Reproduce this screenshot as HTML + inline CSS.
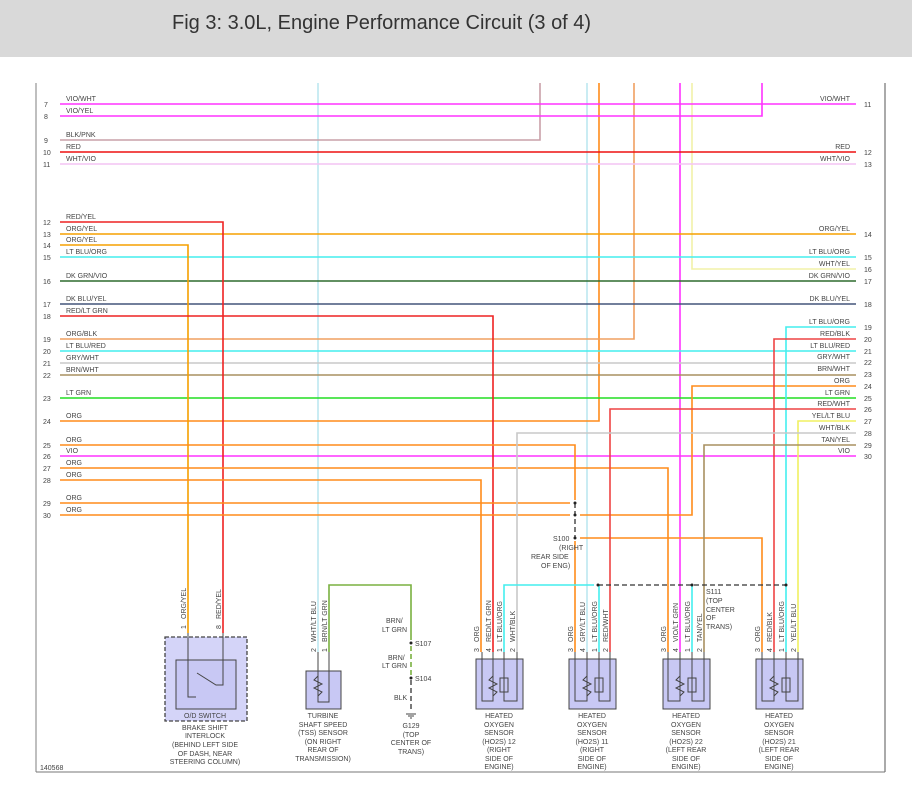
<!DOCTYPE html>
<html><head><meta charset="utf-8"><style>
html,body{margin:0;padding:0;background:#fff;}
svg{display:block;font-family:"Liberation Sans",sans-serif;}
.t{font-size:7px;fill:#444;}
.h{font-size:20px;fill:#333;}
</style></head><body>
<svg width="912" height="800" viewBox="0 0 912 800" xmlns="http://www.w3.org/2000/svg">
<rect x="0" y="0" width="912" height="57" fill="#d9d9d9"/>
<text x="172" y="29" class="h">Fig 3: 3.0L, Engine Performance Circuit (3 of 4)</text>
<line x1="36" y1="83" x2="36" y2="772" stroke="#aaa" stroke-width="1.5"/>
<line x1="885" y1="83" x2="885" y2="772" stroke="#555" stroke-width="1"/>
<line x1="36" y1="772" x2="885" y2="772" stroke="#777" stroke-width="1"/>
<text x="40" y="770" class="t">140568</text>

<g fill="none" stroke-width="1.6">
<polyline points="318,83 318,652" stroke="#bde8f0"/>
<polyline points="587,83 587,652" stroke="#bde8f0"/>
<polyline points="680,83 680,652" stroke="#ff33ff"/>
<polyline points="692,83 692,269 856,269" stroke="#f2f2a8"/>
<polyline points="599,83 599,421 60,421" stroke="#ff8c1a"/>
<polyline points="634,83 634,339 60,339" stroke="#f0a060"/>
<polyline points="540,83 540,140 60,140" stroke="#c9a0a8"/>
<polyline points="762,83 762,116 60,116" stroke="#ff33ff"/>
<line x1="60" y1="104" x2="856" y2="104" stroke="#ff33ff"/>
<line x1="60" y1="152" x2="856" y2="152" stroke="#ee1111"/>
<line x1="60" y1="164" x2="856" y2="164" stroke="#f4c4f4"/>
<line x1="60" y1="234" x2="856" y2="234" stroke="#f5a000"/>
<line x1="60" y1="257" x2="856" y2="257" stroke="#44eeee"/>
<line x1="60" y1="281" x2="856" y2="281" stroke="#2e6b2e"/>
<line x1="60" y1="304" x2="856" y2="304" stroke="#44557a"/>
<line x1="60" y1="351" x2="856" y2="351" stroke="#44eeee"/>
<line x1="60" y1="363" x2="856" y2="363" stroke="#c8c8c8"/>
<line x1="60" y1="375" x2="856" y2="375" stroke="#a89060"/>
<line x1="60" y1="398" x2="856" y2="398" stroke="#22dd22"/>
<line x1="60" y1="456" x2="856" y2="456" stroke="#ff33ff"/>
<polyline points="60,222 223,222 223,633" stroke="#ee2222"/>
<polyline points="60,245 188,245 188,633" stroke="#f5a000"/>
<polyline points="60,316 493,316 493,652" stroke="#ee2222"/>
<polyline points="60,445 575,445 575,500" stroke="#ff8c1a"/>
<polyline points="60,468 668,468 668,652" stroke="#ff8c1a"/>
<polyline points="60,480 481,480 481,652" stroke="#ff8c1a"/>
<line x1="60" y1="503" x2="570" y2="503" stroke="#ff8c1a"/>
<line x1="60" y1="515" x2="570" y2="515" stroke="#ff8c1a"/>
<polyline points="580,515 692,515 692,386 856,386" stroke="#ff8c1a"/>
<polyline points="580,538 762,538 762,652" stroke="#ff8c1a"/>
<line x1="575" y1="541" x2="575" y2="652" stroke="#ff8c1a"/>
<polyline points="856,327 786,327 786,652" stroke="#44eeee"/>
<polyline points="856,339 774,339 774,652" stroke="#ee4444"/>
<polyline points="856,409 610,409 610,652" stroke="#ee4444"/>
<polyline points="856,421 798,421 798,652" stroke="#f0f060"/>
<polyline points="856,433 517,433 517,652" stroke="#c8c8c8"/>
<polyline points="856,445 704,445 704,652" stroke="#a89060"/>
<polyline points="504,652 504,585 594,585" stroke="#44eeee"/>
<line x1="599" y1="585" x2="599" y2="652" stroke="#44eeee"/>
<line x1="692" y1="585" x2="692" y2="652" stroke="#44eeee"/>
<polyline points="329,652 329,585 411,585 411,640" stroke="#7ab040"/>
<line x1="411" y1="646" x2="411" y2="675" stroke="#7ab040" stroke-dasharray="5,3"/>
</g>
<g stroke="#333" stroke-width="1.3" fill="none" stroke-dasharray="5,3">
<line x1="575" y1="503" x2="575" y2="538"/>
<line x1="598" y1="585" x2="786" y2="585"/>
<line x1="411" y1="680" x2="411" y2="712"/>
</g>
<g fill="#222">
<circle cx="575" cy="503" r="1.5"/><circle cx="575" cy="515" r="1.5"/><circle cx="575" cy="538" r="1.5"/>
<circle cx="598" cy="585" r="1.5"/><circle cx="692" cy="585" r="1.5"/><circle cx="786" cy="585" r="1.5"/>
<circle cx="411" cy="643" r="1.5"/><circle cx="411" cy="678" r="1.5"/>
</g>
<g stroke="#444" stroke-width="1"><line x1="406" y1="714" x2="416" y2="714"/><line x1="408" y1="716" x2="414" y2="716"/><line x1="410" y1="718" x2="412" y2="718"/></g>

<g stroke="#444" stroke-width="1">
<rect x="165" y="637" width="82" height="84" fill="#d4d4f8" stroke-dasharray="4,2" stroke-width="1.3"/>
<rect x="176" y="660" width="60" height="49" fill="#c8c8f4"/>
<polyline points="188,633 188,697 196,697" fill="none"/>
<polyline points="223,633 223,685 216,685 197,673" fill="none"/>
<rect x="306" y="671" width="35" height="38" fill="#c8c8f4"/>
<polyline points="318,652 318,702 329,702 329,652" fill="none"/>
<polyline points="318,676 314,680 322,684 314,688 322,692 318,696" fill="none"/>
<rect x="476" y="659" width="47" height="50" fill="#c8c8f4"/>
<rect x="569" y="659" width="47" height="50" fill="#c8c8f4"/>
<rect x="663" y="659" width="47" height="50" fill="#c8c8f4"/>
<rect x="756" y="659" width="47" height="50" fill="#c8c8f4"/>
</g>
<g stroke="#444" stroke-width="1" fill="none">
<polyline points="482,652 482,701 493,701 493,652"/><polyline points="504,652 504,701 517,701 517,652"/>
<polyline points="493,676 489,680 497,684 489,688 497,692 493,696"/><rect x="500" y="678" width="8" height="14"/>
<polyline points="575,652 575,701 587,701 587,652"/><polyline points="599,652 599,701 610,701 610,652"/>
<polyline points="587,676 583,680 591,684 583,688 591,692 587,696"/><rect x="595" y="678" width="8" height="14"/>
<polyline points="668,652 668,701 680,701 680,652"/><polyline points="692,652 692,701 704,701 704,652"/>
<polyline points="680,676 676,680 684,684 676,688 684,692 680,696"/><rect x="688" y="678" width="8" height="14"/>
<polyline points="762,652 762,701 774,701 774,652"/><polyline points="786,652 786,701 798,701 798,652"/>
<polyline points="774,676 770,680 778,684 770,688 778,692 774,696"/><rect x="782" y="678" width="8" height="14"/>
</g>

<g class="t">
<text x="44" y="107">7</text><text x="66" y="101">VIO/WHT</text>
<text x="44" y="119">8</text><text x="66" y="113">VIO/YEL</text>
<text x="44" y="143">9</text><text x="66" y="137">BLK/PNK</text>
<text x="43" y="155">10</text><text x="66" y="149">RED</text>
<text x="43" y="167">11</text><text x="66" y="161">WHT/VIO</text>
<text x="43" y="225">12</text><text x="66" y="219">RED/YEL</text>
<text x="43" y="237">13</text><text x="66" y="231">ORG/YEL</text>
<text x="43" y="248">14</text><text x="66" y="242">ORG/YEL</text>
<text x="43" y="260">15</text><text x="66" y="254">LT BLU/ORG</text>
<text x="43" y="284">16</text><text x="66" y="278">DK GRN/VIO</text>
<text x="43" y="307">17</text><text x="66" y="301">DK BLU/YEL</text>
<text x="43" y="319">18</text><text x="66" y="313">RED/LT GRN</text>
<text x="43" y="342">19</text><text x="66" y="336">ORG/BLK</text>
<text x="43" y="354">20</text><text x="66" y="348">LT BLU/RED</text>
<text x="43" y="366">21</text><text x="66" y="360">GRY/WHT</text>
<text x="43" y="378">22</text><text x="66" y="372">BRN/WHT</text>
<text x="43" y="401">23</text><text x="66" y="395">LT GRN</text>
<text x="43" y="424">24</text><text x="66" y="418">ORG</text>
<text x="43" y="448">25</text><text x="66" y="442">ORG</text>
<text x="43" y="459">26</text><text x="66" y="453">VIO</text>
<text x="43" y="471">27</text><text x="66" y="465">ORG</text>
<text x="43" y="483">28</text><text x="66" y="477">ORG</text>
<text x="43" y="506">29</text><text x="66" y="500">ORG</text>
<text x="43" y="518">30</text><text x="66" y="512">ORG</text>
</g>
<g class="t" text-anchor="end">
<text x="850" y="101">VIO/WHT</text><text x="850" y="149">RED</text><text x="850" y="161">WHT/VIO</text>
<text x="850" y="231">ORG/YEL</text><text x="850" y="254">LT BLU/ORG</text><text x="850" y="266">WHT/YEL</text>
<text x="850" y="278">DK GRN/VIO</text><text x="850" y="301">DK BLU/YEL</text><text x="850" y="324">LT BLU/ORG</text>
<text x="850" y="336">RED/BLK</text><text x="850" y="348">LT BLU/RED</text><text x="850" y="359">GRY/WHT</text>
<text x="850" y="371">BRN/WHT</text><text x="850" y="383">ORG</text><text x="850" y="395">LT GRN</text>
<text x="850" y="406">RED/WHT</text><text x="850" y="418">YEL/LT BLU</text><text x="850" y="430">WHT/BLK</text>
<text x="850" y="442">TAN/YEL</text><text x="850" y="453">VIO</text>
</g>
<g class="t">
<text x="864" y="107">11</text><text x="864" y="155">12</text><text x="864" y="167">13</text>
<text x="864" y="237">14</text><text x="864" y="260">15</text><text x="864" y="272">16</text>
<text x="864" y="284">17</text><text x="864" y="307">18</text><text x="864" y="330">19</text>
<text x="864" y="342">20</text><text x="864" y="354">21</text><text x="864" y="365">22</text>
<text x="864" y="377">23</text><text x="864" y="389">24</text><text x="864" y="401">25</text>
<text x="864" y="412">26</text><text x="864" y="424">27</text><text x="864" y="436">28</text>
<text x="864" y="448">29</text><text x="864" y="459">30</text>
<text x="553" y="541">S100</text><text x="559" y="550">(RIGHT</text><text x="531" y="559">REAR SIDE</text><text x="541" y="568">OF ENG)</text>
<text x="706" y="594">S111</text><text x="706" y="603">(TOP</text><text x="706" y="612">CENTER</text><text x="706" y="620">OF</text><text x="706" y="629">TRANS)</text>
<text x="386" y="623">BRN/</text><text x="382" y="632">LT GRN</text><text x="415" y="646">S107</text>
<text x="388" y="660">BRN/</text><text x="382" y="668">LT GRN</text><text x="415" y="681">S104</text>
<text x="394" y="700">BLK</text>
</g>
<g class="t" text-anchor="middle">
<text x="411" y="728">G129</text><text x="411" y="737">(TOP</text><text x="411" y="745">CENTER OF</text><text x="411" y="754">TRANS)</text>
<text x="205" y="718">O/D SWITCH</text><text x="205" y="730">BRAKE SHIFT</text><text x="205" y="738">INTERLOCK</text><text x="205" y="747">(BEHIND LEFT SIDE</text><text x="205" y="756">OF DASH, NEAR</text><text x="205" y="764">STEERING COLUMN)</text>
<text x="323" y="718">TURBINE</text><text x="323" y="727">SHAFT SPEED</text><text x="323" y="735">(TSS) SENSOR</text><text x="323" y="744">(ON RIGHT</text><text x="323" y="752">REAR OF</text><text x="323" y="761">TRANSMISSION)</text>
<text x="499" y="718">HEATED</text><text x="499" y="727">OXYGEN</text><text x="499" y="735">SENSOR</text><text x="499" y="744">(HO2S) 12</text><text x="499" y="752">(RIGHT</text><text x="499" y="761">SIDE OF</text><text x="499" y="769">ENGINE)</text>
<text x="592" y="718">HEATED</text><text x="592" y="727">OXYGEN</text><text x="592" y="735">SENSOR</text><text x="592" y="744">(HO2S) 11</text><text x="592" y="752">(RIGHT</text><text x="592" y="761">SIDE OF</text><text x="592" y="769">ENGINE)</text>
<text x="686" y="718">HEATED</text><text x="686" y="727">OXYGEN</text><text x="686" y="735">SENSOR</text><text x="686" y="744">(HO2S) 22</text><text x="686" y="752">(LEFT REAR</text><text x="686" y="761">SIDE OF</text><text x="686" y="769">ENGINE)</text>
<text x="779" y="718">HEATED</text><text x="779" y="727">OXYGEN</text><text x="779" y="735">SENSOR</text><text x="779" y="744">(HO2S) 21</text><text x="779" y="752">(LEFT REAR</text><text x="779" y="761">SIDE OF</text><text x="779" y="769">ENGINE)</text>
</g>

<g class="t">
<g transform="translate(186,629) rotate(-90)"><text x="0" y="0">1</text><text x="10" y="0">ORG/YEL</text></g>
<g transform="translate(221,629) rotate(-90)"><text x="0" y="0">8</text><text x="10" y="0">RED/YEL</text></g>
<g transform="translate(316,652) rotate(-90)"><text x="0" y="0">2</text><text x="10" y="0">WHT/LT BLU</text></g>
<g transform="translate(327,652) rotate(-90)"><text x="0" y="0">1</text><text x="10" y="0">BRN/LT GRN</text></g>
<g transform="translate(479,652) rotate(-90)"><text x="0" y="0">3</text><text x="10" y="0">ORG</text></g>
<g transform="translate(491,652) rotate(-90)"><text x="0" y="0">4</text><text x="10" y="0">RED/LT GRN</text></g>
<g transform="translate(502,652) rotate(-90)"><text x="0" y="0">1</text><text x="10" y="0">LT BLU/ORG</text></g>
<g transform="translate(515,652) rotate(-90)"><text x="0" y="0">2</text><text x="10" y="0">WHT/BLK</text></g>
<g transform="translate(573,652) rotate(-90)"><text x="0" y="0">3</text><text x="10" y="0">ORG</text></g>
<g transform="translate(585,652) rotate(-90)"><text x="0" y="0">4</text><text x="10" y="0">GRY/LT BLU</text></g>
<g transform="translate(597,652) rotate(-90)"><text x="0" y="0">1</text><text x="10" y="0">LT BLU/ORG</text></g>
<g transform="translate(608,652) rotate(-90)"><text x="0" y="0">2</text><text x="10" y="0">RED/WHT</text></g>
<g transform="translate(666,652) rotate(-90)"><text x="0" y="0">3</text><text x="10" y="0">ORG</text></g>
<g transform="translate(678,652) rotate(-90)"><text x="0" y="0">4</text><text x="10" y="0">VIO/LT GRN</text></g>
<g transform="translate(690,652) rotate(-90)"><text x="0" y="0">1</text><text x="10" y="0">LT BLU/ORG</text></g>
<g transform="translate(702,652) rotate(-90)"><text x="0" y="0">2</text><text x="10" y="0">TAN/YEL</text></g>
<g transform="translate(760,652) rotate(-90)"><text x="0" y="0">3</text><text x="10" y="0">ORG</text></g>
<g transform="translate(772,652) rotate(-90)"><text x="0" y="0">4</text><text x="10" y="0">RED/BLK</text></g>
<g transform="translate(784,652) rotate(-90)"><text x="0" y="0">1</text><text x="10" y="0">LT BLU/ORG</text></g>
<g transform="translate(796,652) rotate(-90)"><text x="0" y="0">2</text><text x="10" y="0">YEL/LT BLU</text></g>
</g>
</svg>
</body></html>
